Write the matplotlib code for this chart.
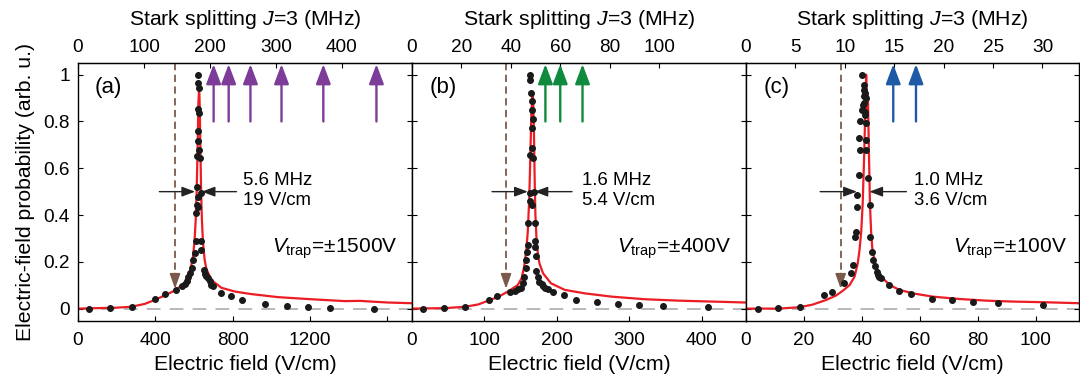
#!/usr/bin/env python3
import matplotlib.pyplot as plt

plt.rcParams["font.family"] = ["Liberation Sans", "DejaVu Sans"]
plt.rcParams["mathtext.fontset"] = "custom"
plt.rcParams["mathtext.rm"] = "Liberation Sans"
plt.rcParams["mathtext.it"] = "Liberation Sans:italic"

# Stark splitting (MHz) per electric field (V/cm)
MHZ_PER_VCM = 0.293

# --- panel (a): Vtrap = +-1500 V ---
e_a = [55, 167, 279, 397, 452, 509, 536, 552, 563, 571, 579, 588, 597, 605, 609, 611,
       614, 614, 617, 619, 619, 623, 623, 623, 623, 623, 626, 626, 626, 632, 636, 636,
       636, 652, 659, 664, 673, 681, 690, 699, 742, 793, 850, 966, 1081, 1190, 1306, 1532]
p_a = [0.0, 0.002, 0.007, 0.041, 0.064, 0.078, 0.095, 0.105, 0.116, 0.137, 0.152, 0.173,
       0.209, 0.237, 0.287, 0.408, 0.443, 0.522, 0.651, 0.758, 0.853, 0.479, 0.436, 0.715,
       0.964, 1.0, 0.943, 0.836, 0.68, 0.645, 0.493, 0.287, 0.251, 0.166, 0.149, 0.14,
       0.13, 0.116, 0.101, 0.097, 0.066, 0.056, 0.038, 0.02, 0.013, 0.007, 0.002, 0.0]
fit_e_a = [0, 100, 200, 276, 345, 397, 448, 500, 552, 578, 595, 603, 609, 614, 619, 623,
           626, 628, 630, 633, 637, 641, 647, 655, 664, 690, 742, 811, 897, 1035, 1207,
           1380, 1460, 1518, 1604, 1727]
fit_p_a = [0.0, 0.002, 0.004, 0.008, 0.02, 0.037, 0.056, 0.077, 0.108, 0.151, 0.222, 0.29,
           0.38, 0.5, 0.7, 0.88, 0.93, 0.92, 0.85, 0.7, 0.5, 0.38, 0.28, 0.21, 0.17, 0.122,
           0.089, 0.073, 0.062, 0.049, 0.04, 0.032, 0.033, 0.03, 0.026, 0.023]
arrows_mhz_a = [205.6, 228.4, 261.4, 308.5, 371.9, 452.4]

# --- panel (b): Vtrap = +-400 V ---
e_b = [16, 44, 73, 107, 118, 136, 142, 146.5, 150, 153, 155.4, 157, 158, 159, 160, 160,
       162.4, 163.7, 165.6, 163.7, 165.6, 167, 166, 167, 166, 165.6, 164.7, 163.7, 163.3,
       168.3, 169.3, 169.3, 170, 171.6, 172, 174.5, 176, 179, 181, 184, 188, 195, 210,
       226, 255, 284, 313, 346, 409]
p_b = [0.0, 0.002, 0.006, 0.037, 0.053, 0.072, 0.077, 0.082, 0.09, 0.108, 0.137, 0.173,
       0.209, 0.24, 0.272, 0.365, 0.458, 0.493, 0.444, 0.658, 0.686, 0.645, 0.771, 0.81,
       0.85, 0.886, 0.922, 0.979, 1.0, 0.5, 0.365, 0.287, 0.265, 0.223, 0.16, 0.137,
       0.115, 0.104, 0.095, 0.09, 0.083, 0.072, 0.059, 0.037, 0.027, 0.02, 0.016, 0.013,
       0.007]
fit_e_b = [0, 46, 74, 92, 108, 120, 133, 146, 151.5, 155, 158, 160, 162, 163.5, 165, 166.5,
           167.5, 168.5, 169.5, 170.5, 172, 174, 176, 181, 192, 211, 239, 276, 322, 368,
           415, 461]
fit_p_b = [0.0, 0.002, 0.008, 0.018, 0.037, 0.051, 0.074, 0.1, 0.13, 0.18, 0.25, 0.33,
           0.47, 0.65, 0.84, 0.91, 0.88, 0.75, 0.55, 0.4, 0.3, 0.23, 0.194, 0.151, 0.108,
           0.08, 0.065, 0.051, 0.04, 0.034, 0.03, 0.026]
arrows_mhz_b = [54, 60, 69]

# --- panel (c): Vtrap = +-100 V ---
e_c = [4.3, 11.2, 18.5, 26.9, 29.8, 33.8, 36.3, 37.1, 37.7, 38.1, 38.3, 38.5, 38.9, 38.9,
       39.2, 39.4, 40, 40.3, 40.6, 40.6, 40.8, 40.6, 40.2, 41, 41.3, 41, 41.2, 41.5, 41.5,
       41.5, 42.3, 42.7, 42.9, 43.5, 44, 44.6, 45.1, 45.6, 46.1, 46.5, 49.3, 52.8, 56.9,
       64.1, 71.3, 78.4, 87, 102.7]
p_c = [0.0, 0.001, 0.008, 0.06, 0.07, 0.109, 0.151, 0.187, 0.308, 0.329, 0.486, 0.436,
       0.572, 0.729, 0.679, 0.8, 0.85, 0.87, 0.879, 0.907, 0.936, 0.957, 1.0, 0.92, 0.9,
       0.84, 0.828, 0.793, 0.722, 0.679, 0.557, 0.443, 0.308, 0.244, 0.209, 0.18, 0.157,
       0.144, 0.134, 0.13, 0.101, 0.077, 0.063, 0.043, 0.036, 0.027, 0.023, 0.016]
fit_e_c = [0, 11.5, 18.5, 23, 27.7, 31.1, 33.4, 35.8, 37.5, 38.6, 39.2, 39.8, 40.3, 40.8,
           41.2, 41.5, 41.8, 42.1, 42.4, 42.8, 43.2, 43.6, 44.4, 46.1, 49.6, 53, 57.7, 64.6,
           73.8, 83, 92.3, 103.8, 115]
fit_p_c = [0.0, 0.0, 0.006, 0.017, 0.037, 0.056, 0.076, 0.101, 0.137, 0.194, 0.25, 0.33,
           0.45, 0.65, 0.85, 1.0, 0.85, 0.91, 0.7, 0.45, 0.33, 0.26, 0.201, 0.144, 0.101,
           0.08, 0.065, 0.051, 0.041, 0.034, 0.03, 0.027, 0.023]
arrows_mhz_c = [14.9, 17.2]

labels = ["(a)", "(b)", "(c)"]
vtraps = ["1500", "400", "100"]
fwhm_mhz = ["5.6", "1.6", "1.0"]
fwhm_vcm = ["19", "5.4", "3.6"]
thresholds = [502, 130, 32.7]          # brown dashed arrows (V/cm)
xmax = [1727, 461, 115]
xticks = [[0, 400, 800, 1200, 1600], [0, 100, 200, 300, 400], [0, 20, 40, 60, 80, 100]]
xticklabels = [["0", "400", "800", "1200", ""], None, None]
topticks = [[0, 100, 200, 300, 400], [0, 20, 40, 60, 80, 100], [0, 5, 10, 15, 20, 25, 30]]
arrow_colors = ["#7D3C98", "#0F8A3E", "#1F5AA6"]

# FWHM arrows: (left start, left tip, right start, right tip) in V/cm
fwhm_arrows = [(421, 606, 820, 640), (110.7, 160, 221, 169.3), (25.6, 38.3, 55.4, 42.6)]
fwhm_text_x = [852, 234.5, 57.9]
vtrap_x = [1002, 283.7, 71.4]
label_x = [88, 24, 6]


def main():
    fig = plt.figure(figsize=(10.8, 3.85), dpi=100)
    edges = [78, 411.8, 746, 1079]

    data = [(e_a, p_a, fit_e_a, fit_p_a, arrows_mhz_a),
            (e_b, p_b, fit_e_b, fit_p_b, arrows_mhz_b),
            (e_c, p_c, fit_e_c, fit_p_c, arrows_mhz_c)]

    for i, (e, p, fe, fp, arr) in enumerate(data):
        ax = fig.add_axes([edges[i] / 1080, 64 / 385,
                           (edges[i + 1] - edges[i]) / 1080, 258 / 385])
        ax.set_xlim(0, xmax[i])
        ax.set_ylim(-0.053, 1.05)

        ax.axhline(0, color="#a6a6a6", lw=1.1, dashes=(9, 6), zorder=1)
        ax.plot(fe, fp, color="#ec1c24", lw=1.6, zorder=2)
        ax.errorbar(e, p, yerr=0.012, fmt="o", ms=4, color="#1a1a1a",
                    elinewidth=0.9, capsize=0, zorder=3)

        # transition arrows
        for m in arr:
            ax.annotate("", xy=(m / MHZ_PER_VCM, 1.045), xytext=(m / MHZ_PER_VCM, 0.8),
                        arrowprops=dict(arrowstyle="-|>,head_width=0.45,head_length=1.2",
                                        color=arrow_colors[i], lw=1.7,
                                        shrinkA=0, shrinkB=0))

        # brown dashed threshold arrow
        th = thresholds[i]
        ax.plot([th, th], [1.05, 0.14], color="#7a5a4a", lw=1.3, dashes=(4, 2.5))
        ax.annotate("", xy=(th, 0.085), xytext=(th, 0.15),
                    arrowprops=dict(arrowstyle="-|>,head_width=0.32,head_length=0.9",
                                    color="#7a5a4a", lw=1.2, shrinkA=0, shrinkB=0))

        # FWHM arrows
        ls, lt, rs, rt = fwhm_arrows[i]
        for s, t in [(ls, lt), (rs, rt)]:
            ax.annotate("", xy=(t, 0.5), xytext=(s, 0.5),
                        arrowprops=dict(arrowstyle="-|>,head_width=0.3,head_length=0.8",
                                        color="#222222", lw=1.0, shrinkA=0, shrinkB=0))
        ax.text(fwhm_text_x[i], 0.505, f"{fwhm_mhz[i]} MHz\n{fwhm_vcm[i]} V/cm",
                fontsize=13.4, ha="left", va="center", linespacing=1.25)

        ax.text(vtrap_x[i], 0.238, r"$V_{\mathrm{trap}}$=±" + vtraps[i] + "V",
                fontsize=15, ha="left", va="baseline")
        ax.text(label_x[i], 0.944, labels[i], fontsize=16, ha="left", va="center")

        ax.set_xticks(xticks[i])
        if xticklabels[i] is not None:
            ax.set_xticklabels(xticklabels[i])
        ax.set_yticks([0, 0.2, 0.4, 0.6, 0.8, 1.0])
        ax.set_yticklabels(["0", "0.2", "0.4", "0.6", "0.8", "1"])
        ax.tick_params(axis="x", pad=8)
        ax.tick_params(axis="y", pad=6)
        ax.tick_params(direction="in", length=3.5, width=0.8, labelsize=13.7,
                       right=True, top=False, labelleft=(i == 0))
        ax.set_xlabel("Electric field (V/cm)", fontsize=15.3, labelpad=4)
        if i == 0:
            ax.set_ylabel("Electric-field probability (arb. u.)", fontsize=15.3,
                          labelpad=6)

        sec = ax.secondary_xaxis("top", functions=(lambda x: x * MHZ_PER_VCM,
                                                   lambda x: x / MHZ_PER_VCM))
        sec.set_xticks(topticks[i])
        sec.tick_params(direction="in", length=3.5, width=0.8, labelsize=13.7, pad=5)
        sec.set_xlabel(r"Stark splitting $J$=3 (MHz)", fontsize=15.3, labelpad=10)

        for sp in ax.spines.values():
            sp.set_linewidth(1.0)

    fig.savefig("out.png", dpi=100)


if __name__ == "__main__":
    main()
